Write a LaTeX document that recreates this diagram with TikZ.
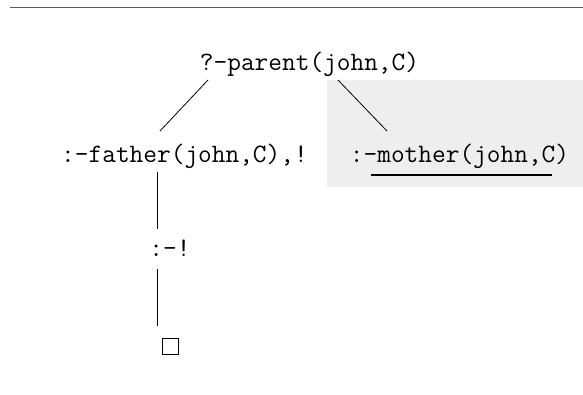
\documentclass[tikz,border=0pt]{standalone}
\usetikzlibrary{calc}
\definecolor{panelgrey}{RGB}{238,238,238}
\definecolor{rulegrey}{RGB}{90,90,90}
\tikzset{
    goal/.style = {anchor = base, inner sep = 0pt, font = \ttfamily\fontsize{26.6}{30}\selectfont},
    branch/.style = {black, line width = 0.8pt},
    emptygoal/.style = {draw, line width = 1pt, minimum size = 16pt, inner sep = 0pt}
}
\begin{document}
\begin{tikzpicture}[x = 1pt, y = -1pt]
            \useasboundingbox (0, 0) rectangle (583, 394);
            \draw[rulegrey, line width = 1.8pt] (10, 7.5) -- (583, 7.5);
            % the second clause, not yet tried
            \fill[panelgrey] (327, 80) rectangle (583, 187);
            \node[goal] (query) at (309.5, 70) {?-parent(john,C)};
            \node[goal] (father) at (184.5, 162) {:-father(john,C),!};
            \node[goal] (mother) at (459.5, 162) {:-mother(john,C)};
            \node[goal] (cut) at (170, 256) {:-!};
            \node[emptygoal] (done) at (170, 346.5) {};
            % derivation steps
            \draw[branch] ($(query.base) + (-101.5, 10)$) -- ($(father.base) + (-24.5, -31)$);
            \draw[branch] ($(query.base) + (28.5, 10)$) -- ($(mother.base) + (-72.5, -31)$);
            \draw[branch] ($(father.base) + (-27.5, 10)$) -- ($(cut.base) + (-13, -27)$);
            \draw[branch] ($(cut.base) + (-13, 13)$) -- ($(done.north) + (-13, -12)$);
            % selected literal
            \draw[line width = 2pt] ($(mother.base) + (-88.5, 13)$) -- ($(mother.base) + (92.5, 13)$);
        \end{tikzpicture}
\end{document}
